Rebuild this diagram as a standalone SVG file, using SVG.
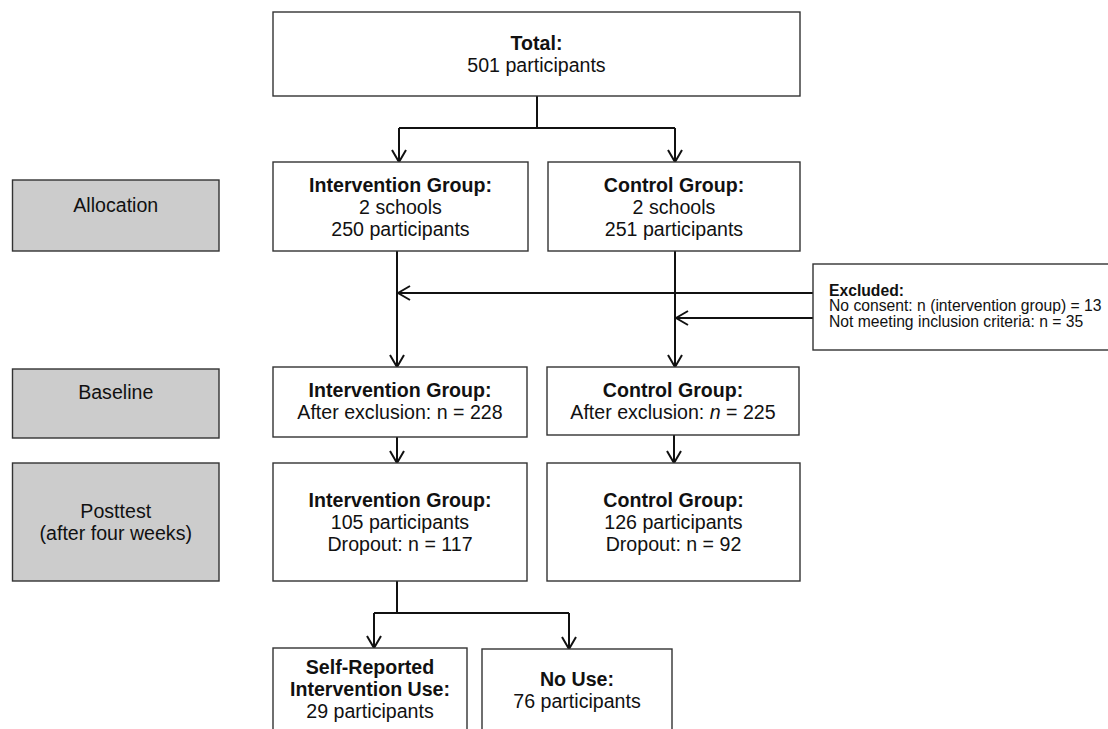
<svg xmlns="http://www.w3.org/2000/svg" width="1108" height="729" viewBox="0 0 1108 729">
<style>
.box{fill:#ffffff;stroke:#333333;stroke-width:1.4}
.gbox{fill:#cccccc;stroke:#333333;stroke-width:1.4}
.t{font-family:"Liberation Sans",Arial,sans-serif;font-size:19.6px;fill:#111111;text-anchor:middle}
.b{font-weight:bold}
.ex{font-family:"Liberation Sans",Arial,sans-serif;font-size:15.7px;fill:#111111}
.c{fill:none;stroke:#111111;stroke-width:2}
</style>
<defs>
<marker id="arr" viewBox="0 0 14 16" refX="13" refY="8" markerWidth="14" markerHeight="16" markerUnits="userSpaceOnUse" orient="auto">
<path d="M1,1 L13,8 L1,15" fill="none" stroke="#111111" stroke-width="2"/>
</marker>
</defs>
<rect width="1108" height="729" fill="#ffffff"/>

<g id="connectors">
<polyline class="c" points="537,96 537,128"/>
<polyline class="c" points="399,128 675,128"/>
<line class="c" x1="399" y1="128" x2="399" y2="162" marker-end="url(#arr)"/>
<line class="c" x1="675" y1="128" x2="675" y2="162" marker-end="url(#arr)"/>
<line class="c" x1="397" y1="251" x2="397" y2="367" marker-end="url(#arr)"/>
<line class="c" x1="675" y1="251" x2="675" y2="367" marker-end="url(#arr)"/>
<line class="c" x1="813" y1="293" x2="398" y2="293" marker-end="url(#arr)"/>
<line class="c" x1="813" y1="318" x2="676" y2="318" marker-end="url(#arr)"/>
<line class="c" x1="397" y1="437" x2="397" y2="463" marker-end="url(#arr)"/>
<line class="c" x1="674" y1="435" x2="674" y2="463" marker-end="url(#arr)"/>
<polyline class="c" points="397,581 397,613"/>
<polyline class="c" points="374,613 569,613"/>
<line class="c" x1="374" y1="613" x2="374" y2="648" marker-end="url(#arr)"/>
<line class="c" x1="569" y1="613" x2="569" y2="649" marker-end="url(#arr)"/>
</g>

<g id="total">
<rect class="box" x="273" y="12" width="527" height="84"/>
<text class="t b" x="536.5" y="50">Total:</text>
<text class="t" x="536.5" y="72">501 participants</text>
</g>

<g id="label-allocation">
<rect class="gbox" x="12.5" y="180" width="206.5" height="71"/>
<text class="t" x="115.75" y="212">Allocation</text>
</g>
<g id="label-baseline">
<rect class="gbox" x="12.5" y="369" width="206.5" height="69"/>
<text class="t" x="115.75" y="399">Baseline</text>
</g>
<g id="label-posttest">
<rect class="gbox" x="12.5" y="463" width="206.5" height="118"/>
<text class="t" x="115.75" y="518">Posttest</text>
<text class="t" x="115.75" y="540">(after four weeks)</text>
</g>

<g id="alloc-intervention">
<rect class="box" x="273" y="162" width="255" height="89"/>
<text class="t b" x="400.5" y="192">Intervention Group:</text>
<text class="t" x="400.5" y="214">2 schools</text>
<text class="t" x="400.5" y="236">250 participants</text>
</g>
<g id="alloc-control">
<rect class="box" x="548" y="162" width="252" height="89"/>
<text class="t b" x="674" y="192">Control Group:</text>
<text class="t" x="674" y="214">2 schools</text>
<text class="t" x="674" y="236">251 participants</text>
</g>

<g id="excluded">
<rect class="box" x="813" y="264" width="300" height="86"/>
<text class="ex b" x="829" y="296">Excluded:</text>
<text class="ex" x="829" y="311">No consent: n (intervention group) = 13</text>
<text class="ex" x="829" y="327">Not meeting inclusion criteria: n = 35</text>
</g>

<g id="baseline-intervention">
<rect class="box" x="273" y="367" width="254" height="70"/>
<text class="t b" x="400" y="397">Intervention Group:</text>
<text class="t" x="400" y="419">After exclusion: n = 228</text>
</g>
<g id="baseline-control">
<rect class="box" x="547" y="367" width="252" height="68"/>
<text class="t b" x="673" y="397">Control Group:</text>
<text class="t" x="673" y="419">After exclusion: <tspan font-style="italic">n</tspan> = 225</text>
</g>

<g id="posttest-intervention">
<rect class="box" x="273" y="463" width="254" height="118"/>
<text class="t b" x="400" y="507">Intervention Group:</text>
<text class="t" x="400" y="529">105 participants</text>
<text class="t" x="400" y="551">Dropout: n = 117</text>
</g>
<g id="posttest-control">
<rect class="box" x="547" y="463" width="253" height="118"/>
<text class="t b" x="673.5" y="507">Control Group:</text>
<text class="t" x="673.5" y="529">126 participants</text>
<text class="t" x="673.5" y="551">Dropout: n = 92</text>
</g>

<g id="self-reported">
<rect class="box" x="273" y="648" width="194" height="100"/>
<text class="t b" x="370" y="674">Self-Reported</text>
<text class="t b" x="370" y="696">Intervention Use:</text>
<text class="t" x="370" y="718">29 participants</text>
</g>
<g id="no-use">
<rect class="box" x="482" y="649" width="190" height="100"/>
<text class="t b" x="577" y="686">No Use:</text>
<text class="t" x="577" y="708">76 participants</text>
</g>
</svg>
